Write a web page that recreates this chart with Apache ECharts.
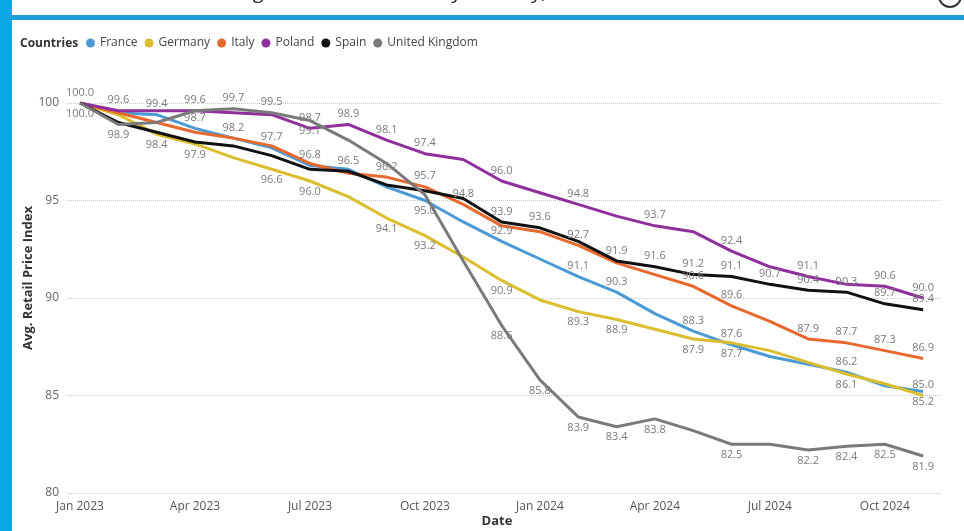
<!DOCTYPE html>
<html>
<head>
<meta charset="utf-8">
<script src="https://cdn.jsdelivr.net/npm/echarts@6/dist/echarts.min.js"></script>
<style>
  html, body { margin: 0; padding: 0; background: #fff; }
  #chart { width: 964px; height: 531px; }
</style>
</head>
<body>
<div id="chart"></div>
<script>
// months on the x axis (Jan 2023 .. Nov 2024)
var months = ['Jan 2023', 'Feb 2023', 'Mar 2023', 'Apr 2023', 'May 2023', 'Jun 2023',
    'Jul 2023', 'Aug 2023', 'Sep 2023', 'Oct 2023', 'Nov 2023', 'Dec 2023',
    'Jan 2024', 'Feb 2024', 'Mar 2024', 'Apr 2024', 'May 2024', 'Jun 2024',
    'Jul 2024', 'Aug 2024', 'Sep 2024', 'Oct 2024', 'Nov 2024'];
var tickLabels = ['Jan 2023', 'Apr 2023', 'Jul 2023', 'Oct 2023', 'Jan 2024', 'Apr 2024', 'Jul 2024', 'Oct 2024'];
var yTicks = [80, 85, 90, 95, 100];

var countries = ['France', 'Germany', 'Italy', 'Poland', 'Spain', 'United Kingdom'];
var france = [100.0, 99.5, 99.4, 98.7, 98.2, 97.7, 96.8, 96.6, 95.7, 95.0, 93.9, 92.9, 92.0, 91.1, 90.3, 89.2, 88.3, 87.6, 87.0, 86.6, 86.2, 85.5, 85.2];
var germany = [100.0, 99.4, 98.4, 97.9, 97.2, 96.6, 96.0, 95.2, 94.1, 93.2, 92.1, 90.9, 89.9, 89.3, 88.9, 88.4, 87.9, 87.7, 87.3, 86.7, 86.1, 85.6, 85.0];
var italy = [100.0, 99.5, 99.0, 98.5, 98.2, 97.8, 96.9, 96.4, 96.2, 95.7, 94.8, 93.7, 93.4, 92.7, 91.8, 91.2, 90.6, 89.6, 88.8, 87.9, 87.7, 87.3, 86.9];
var poland = [100.0, 99.6, 99.6, 99.6, 99.5, 99.4, 98.7, 98.9, 98.1, 97.4, 97.1, 96.0, 95.4, 94.8, 94.2, 93.7, 93.4, 92.4, 91.6, 91.1, 90.7, 90.6, 90.0];
var spain = [100.0, 99.0, 98.5, 98.0, 97.8, 97.3, 96.6, 96.5, 95.8, 95.5, 95.1, 93.9, 93.6, 92.9, 91.9, 91.6, 91.2, 91.1, 90.7, 90.4, 90.3, 89.7, 89.4];
var uk = [100.0, 98.9, 99.0, 99.6, 99.7, 99.5, 99.1, 98.1, 96.9, 95.3, 91.9, 88.6, 85.8, 83.9, 83.4, 83.8, 83.2, 82.5, 82.5, 82.2, 82.4, 82.5, 81.9];

// which months carry a data label, and on which side of the line
var labelAt = {
    'France': { top: [2, 3, 5, 6, 11, 13, 14, 16, 17, 20], bottom: [9, 22] },
    'Germany': { top: [22], bottom: [2, 3, 5, 6, 8, 9, 11, 13, 14, 16, 17, 20] },
    'Italy': { top: [4, 8, 9, 10, 13, 16, 17, 19, 20, 21, 22], bottom: [] },
    'Poland': { top: [0, 1, 6, 7, 8, 9, 11, 13, 15, 17, 19, 21, 22], bottom: [] },
    'Spain': { top: [7, 11, 12, 14, 15, 16, 17, 18, 19, 20, 21, 22], bottom: [0] },
    'United Kingdom': { top: [3, 4, 5], bottom: [1, 6, 11, 12, 13, 14, 15, 17, 19, 20, 21, 22] }
};

var values = [france, germany, italy, poland, spain, uk];
var colors = ['#4a9ad6', '#dcbd2e', '#e8692e', '#8e2f9c', '#111111', '#7a7a7a'];
var FONT = '"Segoe UI", "Open Sans", sans-serif';

var myChart = echarts.init(document.getElementById('chart'));

var series = countries.map(function (name, k) {
    var pos = labelAt[name];
    return {
        name: name,
        type: 'line',
        symbol: 'circle',
        symbolSize: 0.1,
        lineStyle: { width: 3, color: colors[k] },
        itemStyle: { color: colors[k] },
        label: {
            show: false,
            color: '#7a7a7a',
            fontSize: 11,
            fontFamily: FONT,
            formatter: function (p) { return p.value[1].toFixed(1); }
        },
        data: values[k].map(function (v, i) {
            var item = { value: [i, v] };
            if (pos.top.indexOf(i) >= 0) item.label = { show: true, position: 'top' };
            if (pos.bottom.indexOf(i) >= 0) item.label = { show: true, position: 'bottom' };
            return item;
        })
    };
});

var option = {
    animation: false,
    backgroundColor: '#fff',
    textStyle: { fontFamily: FONT },
    color: colors,
    grid: { left: 67, right: 24, top: 103, bottom: 38 },
    legend: {
        left: 86,
        top: 37,
        icon: 'circle',
        itemWidth: 9,
        itemHeight: 9,
        itemGap: 7,
        padding: 0,
        textStyle: { fontSize: 12, color: '#444', fontFamily: FONT },
        data: countries
    },
    xAxis: {
        type: 'value',
        min: -0.34,
        max: 22.44,
        axisLine: { show: false },
        axisTick: { show: false },
        splitLine: { show: false },
        axisLabel: {
            customValues: [0, 3, 6, 9, 12, 15, 18, 21],
            margin: 8,
            fontSize: 12,
            color: '#555',
            formatter: function (v) { return tickLabels[Math.round(v / 3)]; }
        }
    },
    yAxis: {
        type: 'value',
        min: yTicks[0],
        max: yTicks[yTicks.length - 1],
        interval: 5,
        axisLine: { show: false },
        axisTick: { show: false },
        axisLabel: { fontSize: 12, color: '#666', margin: 8 },
        splitLine: { lineStyle: { type: 'dotted', color: '#c8c8c8', width: 1 } }
    },
    graphic: [
        { type: 'rect', shape: { x: 0, y: 0, width: 12, height: 531 }, style: { fill: '#08a8e8' } },
        { type: 'rect', shape: { x: 8, y: 15, width: 956, height: 5 }, style: { fill: '#1d9fdc' } },
        {
            type: 'text', x: 230, y: 2,
            style: { text: 'Avg. Retail Price Index by Country, Date', fontSize: 20, fill: '#222',
                     fontFamily: FONT, textVerticalAlign: 'bottom' }
        },
        { type: 'circle', shape: { cx: 950, cy: -4, r: 11 }, style: { fill: 'none', stroke: '#333', lineWidth: 2 } },
        {
            type: 'text', x: 20, y: 44,
            style: { text: 'Countries', fontSize: 12, fontWeight: 'bold', fill: '#333',
                     fontFamily: FONT, textVerticalAlign: 'middle' }
        },
        {
            type: 'text', x: 28, y: 278, rotation: Math.PI / 2,
            style: { text: 'Avg. Retail Price Index', fontSize: 13, fontWeight: 'bold', fill: '#333',
                     fontFamily: FONT, textAlign: 'center', textVerticalAlign: 'middle' }
        },
        {
            type: 'text', x: 497, y: 521,
            style: { text: 'Date', fontSize: 13, fontWeight: 'bold', fill: '#333',
                     fontFamily: FONT, textAlign: 'center', textVerticalAlign: 'middle' }
        }
    ],
    series: series
};
myChart.setOption(option);
</script>
</body>
</html>
